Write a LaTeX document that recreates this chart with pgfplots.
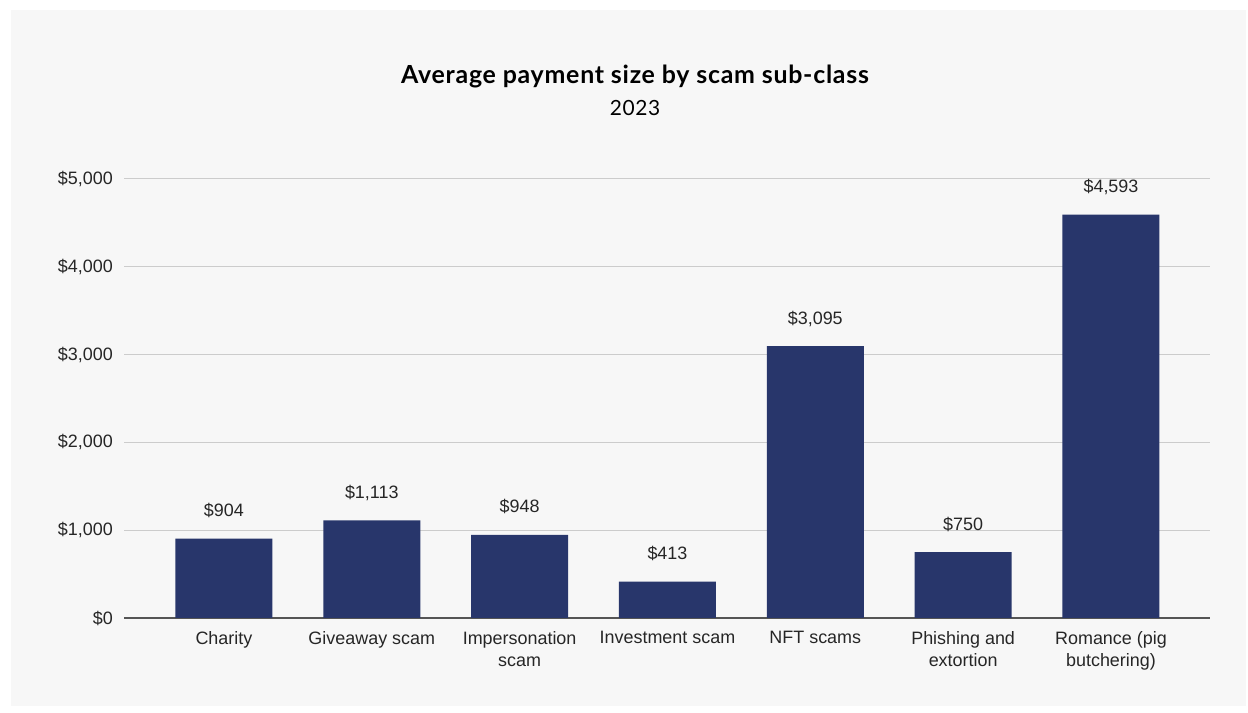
\documentclass[border=0pt]{standalone}
\usepackage{fontspec}
\setmainfont{Liberation Sans}
\newfontfamily\titlefont[LetterSpace=3]{Lato}
\usepackage{pgfplots}
\pgfplotsset{compat=1.18}
\definecolor{panel}{HTML}{F7F7F7}
\definecolor{barblue}{HTML}{28366B}
\definecolor{gridc}{HTML}{CCCCCC}
\definecolor{axisc}{HTML}{555555}

\begin{document}
\begin{tikzpicture}[x=1bp,y=1bp]
% outer margin and chart panel
\fill[white] (0,0) rectangle (1248,713);
\fill[panel] (11,7) rectangle (1246,703);
\node[font=\titlefont\bfseries\fontsize{25}{30}\selectfont, anchor=base] at (635,629) {Average payment size by scam sub-class};
\node[font=\titlefont\fontsize{21}{25}\selectfont, anchor=base] at (635,597) {2023};

\begin{axis}[
    at={(124bp,95bp)}, anchor=south west,
    scale only axis,
    width=1086bp, height=439bp,
    ybar, bar width=97bp,
    xmin=-0.676, xmax=6.67,
    ymin=0, ymax=5000,
    clip=false,
    /pgf/number format/assume math mode=true,
    xtick={0,...,6},
    xticklabels={{Charity},{Giveaway scam},{Impersonation\\scam},{Investment scam},{NFT scams},{Phishing and\\extortion},{Romance (pig\\butchering)}},
    ytick={0,1000,...,5000},
    yticklabels={{\$0},{\$1,000},{\$2,000},{\$3,000},{\$4,000},{\$5,000}},
    major tick length=0pt,
    tick style={draw=none},
    axis lines*=left,
    y axis line style={draw=none},
    x axis line style={draw=axisc, line width=1.3bp, -},
    ymajorgrids,
    grid style={draw=gridc, line width=1bp},
    every tick label/.append style={font=\fontsize{18}{22}\selectfont, text=black!85},
    yticklabel style={anchor=east, inner sep=0pt, xshift=-11bp},
    xticklabel style={anchor=north, inner sep=0pt, yshift=-13bp, align=center},
    nodes near coords={\$\pgfmathprintnumber[fixed, precision=0, 1000 sep={,}]{\pgfplotspointmeta}},
    nodes near coords style={font=\fontsize{18}{22}\selectfont, text=black!85, anchor=base, inner sep=0pt, yshift=22bp},
]
\addplot[fill=barblue, draw=none] coordinates {
    (0,904)
    (1,1113)
    (2,948)
    (3,413)
    (4,3095)
    (5,750)
    (6,4593)
};
\end{axis}
\end{tikzpicture}
\end{document}
